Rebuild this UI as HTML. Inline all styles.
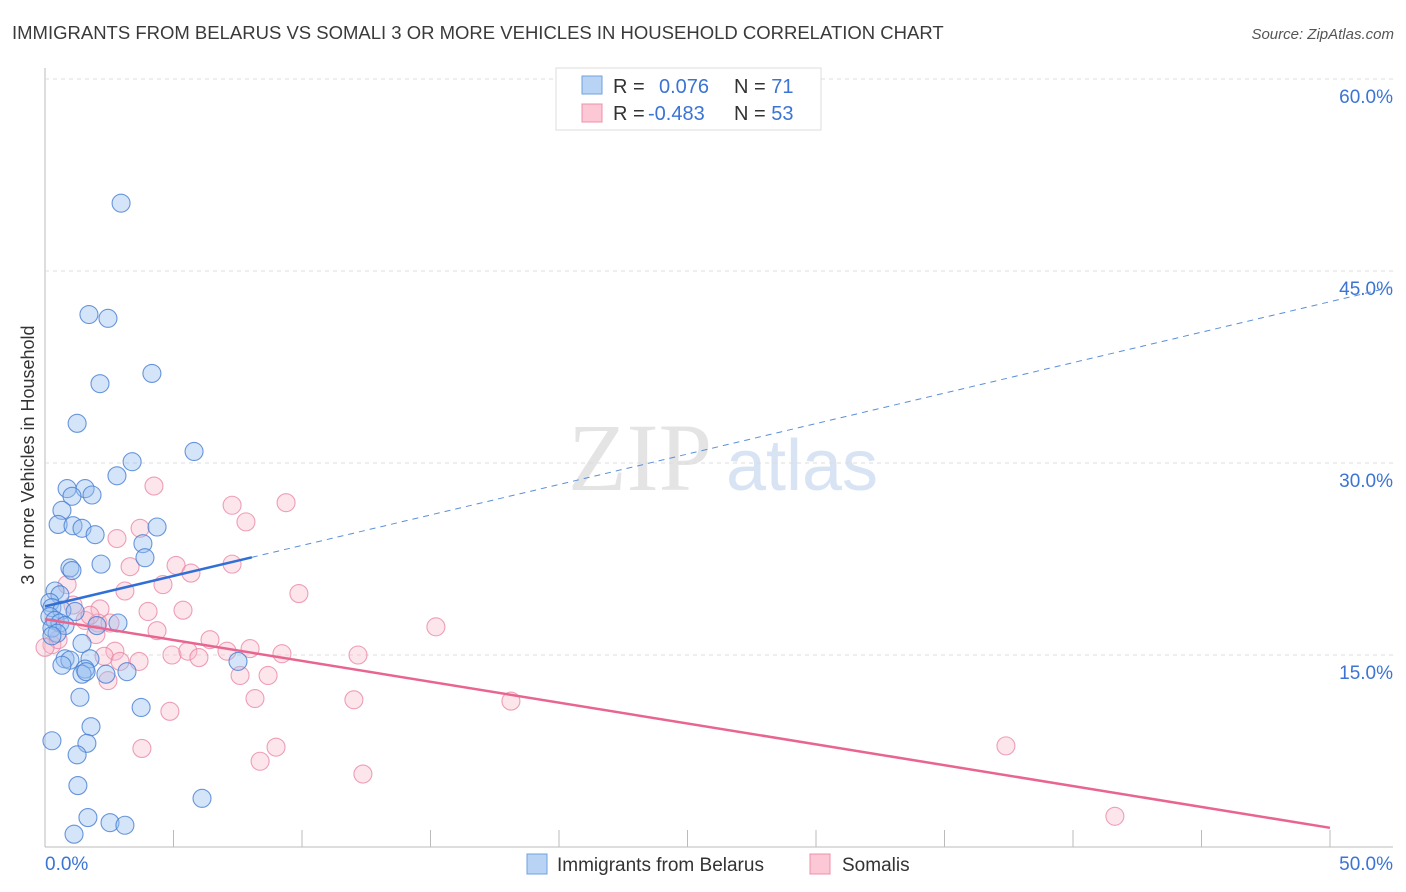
<!DOCTYPE html>
<html><head><meta charset="utf-8"><style>
body{margin:0;background:#fff;font-family:"Liberation Sans",sans-serif;}
svg{display:block}
</style></head><body>
<svg id="c" width="1406" height="892">
<text x="12" y="39" font-size="18.5" fill="#3a3a3a">IMMIGRANTS FROM BELARUS VS SOMALI 3 OR MORE VEHICLES IN HOUSEHOLD CORRELATION CHART</text>
<text x="1394" y="39" font-size="15" fill="#555" font-style="italic" text-anchor="end">Source: ZipAtlas.com</text>
<text x="640" y="490" font-size="96" fill="#e4e4e4" font-family="Liberation Serif,serif" text-anchor="middle">ZIP</text>
<text x="802" y="490" font-size="72" fill="#d8e4f4" text-anchor="middle">atlas</text>
<text transform="translate(34,455) rotate(-90)" font-size="18" fill="#333" text-anchor="middle">3 or more Vehicles in Household</text>
<g id="grid"></g><g id="pts"></g><g id="lines"></g>
<g>
<rect x="556" y="68" width="265" height="62" fill="#fff" stroke="#ddd"/>
<rect x="582" y="76" width="20" height="18" fill="#b9d3f5" stroke="#6fa0e0"/>
<rect x="582" y="104" width="20" height="18" fill="#fcc8d6" stroke="#ee8fab"/>
<text x="613" y="93" font-size="20" fill="#333">R = <tspan fill="#3b74d4" x="659">0.076</tspan><tspan x="734" fill="#333">N = </tspan><tspan fill="#3b74d4">71</tspan></text>
<text x="613" y="120" font-size="20" fill="#333">R = <tspan fill="#3b74d4" x="648">-0.483</tspan><tspan x="734" fill="#333">N = </tspan><tspan fill="#3b74d4">53</tspan></text>
</g>
<g>
<rect x="527" y="854" width="20" height="20" fill="#b9d3f5" stroke="#6fa0e0"/>
<text x="557" y="871" font-size="19" fill="#333">Immigrants from Belarus</text>
<rect x="810" y="854" width="20" height="20" fill="#fcc8d6" stroke="#ee8fab"/>
<text x="842" y="871" font-size="19" fill="#333">Somalis</text>
</g>
</svg>
<script>
const xTicks=[0,50];
const yTicks=[15,30,45,60];
const blueX=[2.96,1.71,2.45,2.14,4.16,1.25,5.8,3.39,2.8,0.86,1.56,1.05,1.83,0.66,0.51,1.09,1.44,1.95,4.36,3.81,3.89,2.18,0.97,1.05,0.39,0.58,0.19,0.27,0.66,1.17,0.19,0.39,0.58,0.27,0.78,2.02,2.84,0.47,0.27,1.44,0.78,0.97,1.75,0.66,1.56,1.44,1.6,3.19,2.37,7.51,0.27,1.36,1.79,1.63,3.74,1.25,1.28,6.11,1.67,2.53,3.11,1.13];
const blueY=[50.3,41.6,41.3,36.2,37.0,33.1,30.9,30.1,29.0,28.0,28.0,27.4,27.5,26.3,25.2,25.1,24.9,24.4,25.0,23.7,22.6,22.1,21.8,21.6,20.0,19.7,19.1,18.7,18.5,18.4,18.0,17.7,17.5,17.1,17.3,17.3,17.5,16.7,16.5,15.9,14.7,14.6,14.7,14.2,13.9,13.5,13.7,13.7,13.5,14.5,8.3,11.7,9.4,8.1,10.9,7.2,4.8,3.8,2.3,1.9,1.7,1.0];
const pinkX=[0.86,1.09,2.14,1.56,2.06,1.98,2.53,2.72,2.3,2.45,3.11,3.31,2.8,3.7,4.24,4.01,4.36,4.59,5.1,5.68,5.37,4.94,5.56,5.99,6.42,7.08,7.28,7.82,7.28,7.98,7.59,8.17,8.68,9.22,9.38,9.88,8.37,8.99,3.77,4.86,12.02,12.18,12.37,15.21,18.13,37.39,41.63,0.27,3.66,2.92,1.75,0.51,0.0];
const pinkY=[20.5,18.9,18.6,17.7,17.5,16.6,17.5,15.3,14.9,13.0,20.0,21.9,24.1,24.9,28.2,18.4,16.9,20.5,22.0,21.4,18.5,15.0,15.3,14.8,16.2,15.3,26.7,25.4,22.1,15.5,13.4,11.6,13.4,15.1,26.9,19.8,6.7,7.8,7.7,10.6,11.5,15.0,5.7,17.2,11.4,7.9,2.4,15.8,14.5,14.5,18.1,16.2,15.6];
const X=v=>45+v*25.7, Y=v=>847-v*12.8;
const NS="http://www.w3.org/2000/svg";
function mk(tag,attrs,parent){const e=document.createElementNS(NS,tag);for(const k in attrs)e.setAttribute(k,attrs[k]);parent.appendChild(e);return e;}
const grid=document.getElementById('grid');
mk('line',{x1:45,y1:68,x2:45,y2:847,stroke:'#bbb'},grid);
mk('line',{x1:45,y1:847,x2:1393,y2:847,stroke:'#bbb'},grid);
for(let i=0;i<=10;i++){mk('line',{x1:X(i*5),y1:830,x2:X(i*5),y2:847,stroke:'#bbb'},grid);}
yTicks.forEach(t=>{
 const l=mk('line',{x1:45,y1:Y(t),x2:1393,y2:Y(t),stroke:'#ddd','stroke-dasharray':'4,4'},grid);
 
 
 const tx=mk('text',{x:1393,y:Y(t)+24,'font-size':19,fill:'#3b74d4','text-anchor':'end'},grid);
 tx.textContent=t.toFixed(1)+'%';
 
 
});
xTicks.forEach((t,i)=>{
 const tx=mk('text',{x:i?1393:45,y:870,'font-size':19,fill:'#3b74d4','text-anchor':i?'end':'start'},grid);
 tx.textContent=t.toFixed(1)+'%';
 
 
});
const pts=document.getElementById('pts');
pinkX.forEach((x,i)=>{const c=mk('circle',{cx:X(x),cy:Y(pinkY[i]),r:9,fill:'rgba(248,180,200,0.35)',stroke:'rgba(232,130,160,0.75)','stroke-width':1.1},pts);
 
 });
blueX.forEach((x,i)=>{const c=mk('circle',{cx:X(x),cy:Y(blueY[i]),r:9,fill:'rgba(150,190,240,0.4)',stroke:'rgba(70,125,210,0.8)','stroke-width':1.1},pts);
 
 });
const lines=document.getElementById('lines');
const b0=18.8,b1=0.476,p0=17.8,p1=-0.326;
let l=mk('line',{x1:X(0),y1:Y(b0),x2:X(8.05),y2:Y(b0+b1*8.05),stroke:'#2f6fd6','stroke-width':2.5},lines);


l=mk('line',{x1:X(8.05),y1:Y(b0+b1*8.05),x2:X(52.4),y2:Y(b0+b1*52.4),stroke:'#5b8fd8','stroke-width':1,'stroke-dasharray':'6,5'},lines);


l=mk('line',{x1:X(0),y1:Y(p0),x2:X(50),y2:Y(p0+p1*50),stroke:'#e8658f','stroke-width':2.5},lines);


</script>
</body></html>
